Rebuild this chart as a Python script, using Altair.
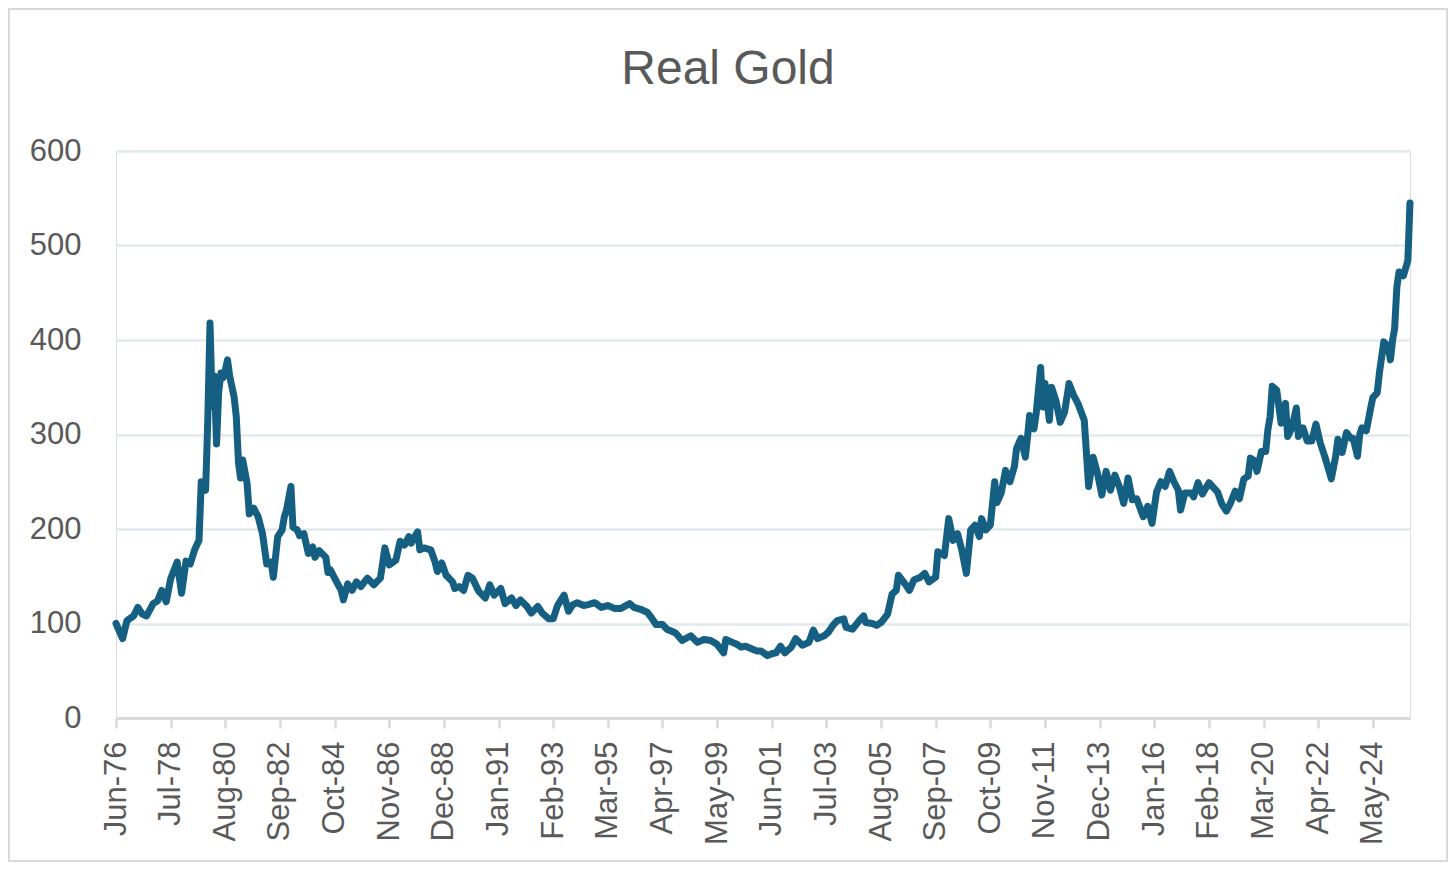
import altair as alt
import pandas as pd

# Real gold index, monthly points
DATES = [
    "1976-06", "1976-09", "1976-11", "1977-02", "1977-04", "1977-06", "1977-08", "1977-11",
    "1978-01", "1978-03", "1978-05", "1978-07", "1978-10", "1978-12", "1979-02", "1979-04",
    "1979-06", "1979-08", "1979-09", "1979-11", "1979-12", "1980-01", "1980-02", "1980-03",
    "1980-04", "1980-05", "1980-06", "1980-07", "1980-08", "1980-09", "1980-10", "1980-12",
    "1981-01", "1981-02", "1981-03", "1981-04", "1981-06", "1981-07", "1981-09", "1981-11",
    "1982-01", "1982-03", "1982-05", "1982-06", "1982-08", "1982-10", "1982-11", "1982-12",
    "1983-02", "1983-03", "1983-05", "1983-06", "1983-08", "1983-10", "1983-12", "1984-01",
    "1984-03", "1984-06", "1984-07", "1984-08", "1984-10", "1985-01", "1985-02", "1985-04",
    "1985-06", "1985-08", "1985-10", "1986-01", "1986-04", "1986-07", "1986-09", "1986-11",
    "1987-02", "1987-04", "1987-06", "1987-08", "1987-09", "1987-12", "1988-01", "1988-03",
    "1988-06", "1988-08", "1988-09", "1988-11", "1989-01", "1989-04", "1989-05", "1989-07",
    "1989-09", "1989-11", "1990-01", "1990-04", "1990-07", "1990-09", "1990-11", "1991-02",
    "1991-04", "1991-07", "1991-09", "1991-11", "1992-02", "1992-04", "1992-07", "1992-09",
    "1992-12", "1993-02", "1993-04", "1993-07", "1993-09", "1993-11", "1994-01", "1994-04",
    "1994-06", "1994-09", "1994-12", "1995-03", "1995-06", "1995-09", "1996-01", "1996-03",
    "1996-06", "1996-09", "1996-11", "1997-01", "1997-04", "1997-06", "1997-08", "1997-10",
    "1998-01", "1998-05", "1998-08", "1998-11", "1999-02", "1999-05", "1999-08", "1999-09",
    "1999-12", "2000-02", "2000-04", "2000-06", "2000-09", "2000-11", "2001-01", "2001-04",
    "2001-06", "2001-08", "2001-10", "2001-12", "2002-03", "2002-05", "2002-08", "2002-11",
    "2003-01", "2003-03", "2003-06", "2003-08", "2003-10", "2003-12", "2004-03", "2004-04",
    "2004-07", "2004-10", "2004-12", "2005-01", "2005-04", "2005-06", "2005-08", "2005-11",
    "2006-01", "2006-03", "2006-04", "2006-07", "2006-09", "2006-11", "2007-02", "2007-04",
    "2007-06", "2007-09", "2007-10", "2008-01", "2008-03", "2008-05", "2008-07", "2008-09",
    "2008-11", "2009-01", "2009-03", "2009-05", "2009-06", "2009-08", "2009-10", "2009-12",
    "2010-01", "2010-03", "2010-05", "2010-07", "2010-09", "2010-10", "2010-12", "2011-02",
    "2011-03", "2011-04", "2011-06", "2011-07", "2011-09", "2011-10", "2011-11", "2012-01",
    "2012-02", "2012-04", "2012-06", "2012-08", "2012-10", "2012-12", "2013-02", "2013-05",
    "2013-07", "2013-09", "2013-11", "2014-01", "2014-03", "2014-05", "2014-07", "2014-09",
    "2014-11", "2015-01", "2015-03", "2015-05", "2015-08", "2015-10", "2015-12", "2016-02",
    "2016-04", "2016-06", "2016-08", "2016-10", "2016-12", "2017-01", "2017-03", "2017-06",
    "2017-07", "2017-09", "2017-11", "2018-02", "2018-04", "2018-06", "2018-08", "2018-10",
    "2018-12", "2019-02", "2019-04", "2019-06", "2019-08", "2019-09", "2019-11", "2019-12",
    "2020-02", "2020-04", "2020-05", "2020-06", "2020-07", "2020-09", "2020-11", "2021-01",
    "2021-02", "2021-04", "2021-06", "2021-07", "2021-09", "2021-11", "2022-01", "2022-03",
    "2022-05", "2022-07", "2022-09", "2022-10", "2022-12", "2023-01", "2023-03", "2023-05",
    "2023-07", "2023-08", "2023-10", "2023-11", "2023-12", "2024-02", "2024-04", "2024-05",
    "2024-07", "2024-08", "2024-09", "2024-10", "2024-12", "2025-01", "2025-02", "2025-03",
    "2025-04", "2025-05", "2025-07", "2025-09", "2025-10",
]
REAL_GOLD = [
    100, 84, 103, 108, 117, 110, 108, 121,
    124, 135, 123, 147, 165, 132, 166, 163,
    178, 188, 250, 241, 315, 418, 330, 362,
    290, 345, 365, 360, 368, 379, 362, 340,
    319, 270, 254, 273, 248, 216, 222, 213,
    195, 163, 165, 149, 192, 199, 213, 220,
    245, 202, 199, 193, 195, 174, 181, 170,
    177, 170, 154, 157, 148, 135, 125, 142,
    135, 144, 139, 148, 141, 148, 180, 162,
    167, 187, 183, 192, 185, 197, 178, 180,
    178, 165, 155, 164, 151, 144, 137, 139,
    135, 151, 148, 134, 127, 141, 130, 137,
    121, 127, 119, 125, 118, 111, 118, 111,
    105, 105, 119, 130, 113, 120, 122, 119,
    120, 122, 117, 119, 116, 116, 121, 117,
    115, 112, 106, 99, 99, 94, 92, 90,
    82, 87, 80, 83, 82, 78, 69, 83,
    80, 78, 75, 76, 73, 71, 71, 66,
    68, 69, 76, 69, 75, 84, 77, 80,
    93, 84, 87, 91, 98, 103, 105, 96,
    94, 103, 108, 101, 100, 98, 101, 110,
    131, 135, 151, 142, 135, 146, 149, 153,
    144, 149, 176, 172, 211, 188, 195, 177,
    153, 199, 204, 192, 211, 199, 204, 250,
    228, 238, 262, 250, 266, 285, 296, 276,
    296, 320, 306, 322, 371, 329, 354, 315,
    350, 336, 313, 324, 354, 342, 333, 315,
    245, 276, 259, 236, 261, 241, 257, 245,
    227, 254, 231, 232, 213, 224, 206, 239,
    250, 245, 261, 250, 241, 220, 238, 238,
    234, 249, 237, 249, 244, 239, 226, 219,
    228, 240, 232, 253, 256, 275, 272, 261,
    282, 282, 305, 319, 351, 347, 312, 333,
    298, 307, 328, 298, 307, 293, 293, 311,
    291, 277, 261, 253, 277, 295, 281, 302,
    296, 296, 277, 300, 307, 304, 328, 339,
    344, 365, 382, 398, 393, 379, 400, 412,
    456, 472, 468, 484, 545,
]
TICK_MONTHS = [
    "1976-06", "1978-07", "1980-08", "1982-09", "1984-10", "1986-11", "1988-12", "1991-01",
    "1993-02", "1995-03", "1997-04", "1999-05", "2001-06", "2003-07", "2005-08", "2007-09",
    "2009-10", "2011-11", "2013-12", "2016-01", "2018-02", "2020-03", "2022-04", "2024-05",
]
Y_TICKS = [0, 100, 200, 300, 400, 500, 600]

LINE = "#156082"
TEXT = "#595959"
GRID = "#e2eaed"
AXIS = "#d9d9d9"
FONT = "Liberation Sans"

df = pd.DataFrame({"date": pd.to_datetime(DATES, format="%Y-%m"), "value": REAL_GOLD})
tick_values = [alt.DateTime(year=int(s[:4]), month=int(s[5:]), date=1) for s in TICK_MONTHS]

line = (
    alt.Chart(df)
    .mark_line(color=LINE, strokeWidth=7, strokeJoin="round", strokeCap="round")
    .encode(
        x=alt.X(
            "date:T",
            title=None,
            scale=alt.Scale(nice=False, padding=0),
            axis=alt.Axis(
                values=tick_values, format="%b-%y", labelAngle=270, labelAlign="right",
                labelBaseline="middle", labelFontSize=31, labelColor=TEXT, labelFont=FONT,
                labelPadding=13, labelFlush=False, labelOverlap=False,
                tickSize=10, tickColor=AXIS, tickWidth=2.5,
                domainColor=AXIS, domainWidth=3, grid=False,
            ),
        ),
        y=alt.Y(
            "value:Q",
            title=None,
            scale=alt.Scale(domain=[0, 600], nice=False),
            axis=alt.Axis(
                values=Y_TICKS, grid=True, gridColor=GRID, gridWidth=2.5,
                domain=False, ticks=False, labelFontSize=31, labelColor=TEXT,
                labelFont=FONT, labelPadding=35,
            ),
        ),
    )
)

# light grey chart-area border
frame = (
    alt.Chart(pd.DataFrame({"f": [0]}))
    .mark_rect(fillOpacity=0, stroke=AXIS, strokeWidth=2, clip=False)
    .encode(x=alt.value(-107), x2=alt.value(1331), y=alt.value(-142), y2=alt.value(710))
)

chart = (
    alt.layer(line, frame)
    .properties(
        width=1294,
        height=567,
        autosize=alt.AutoSizeParams(type="none"),
        padding={"left": 108, "top": 143, "right": 38, "bottom": 144},
        title=alt.TitleParams(
            "Real Gold", fontSize=48, font=FONT, color=TEXT, fontWeight="normal",
            anchor="middle", dx=-35, dy=124, offset=0, baseline="alphabetic",
        ),
    )
    .configure_view(stroke="transparent")
    .configure(background="white")
)

chart.save("out.html", embed_options={"renderer": "svg", "actions": False})
